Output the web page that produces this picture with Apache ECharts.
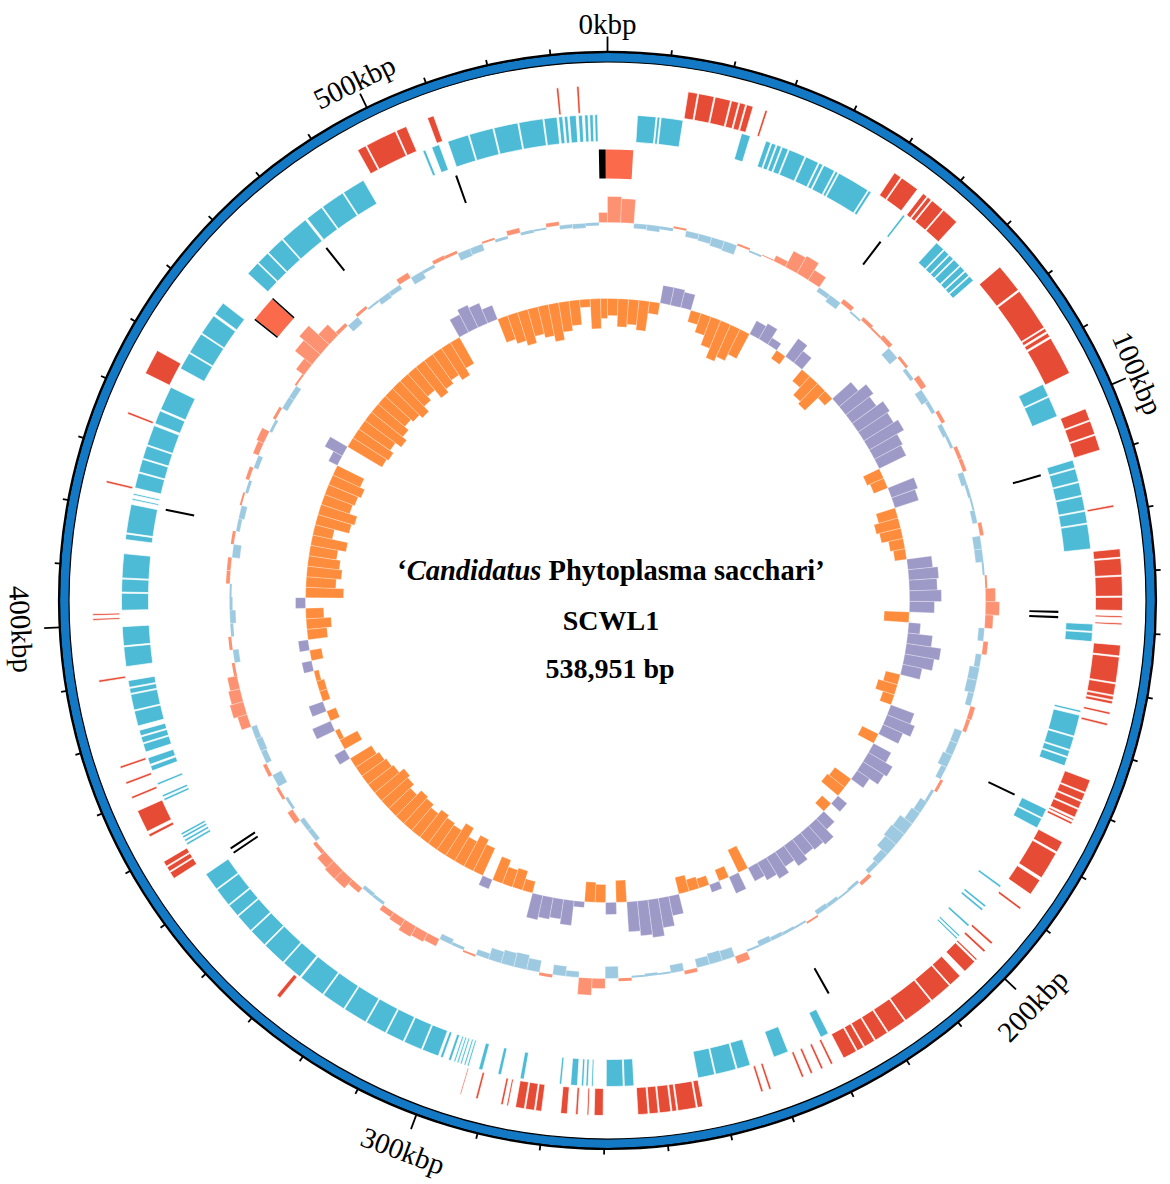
<!DOCTYPE html>
<html><head><meta charset="utf-8">
<script src="https://cdn.jsdelivr.net/npm/echarts@6/dist/echarts.min.js"></script>
<style>html,body{margin:0;padding:0;background:#fff}#c{width:1170px;height:1184px}</style>
</head><body><div id="c"></div>
<script>
// ---------------- DATA ----------------
const genomeLength = 538951;
const tickLabels = ['0kbp','100kbp','200kbp','300kbp','400kbp','500kbp'];
const tickLabelKbp = [0,100,200,300,400,500];
// CDS on the outer track (red), kbp [start, end]
const forwardCDS = [
 [13.5,15.1],[15.3,17.9],[18.1,20.7],[20.9,22.1],[22.3,23.3],[23.5,24.6],[26.7,27.1],
 [50.7,52.0],[52.2,55.4],[56.6,57.4],[57.6,58.3],[58.5,60.8],[61.0,63.9],
 [74.3,79.2],[79.5,86.8],[87.0,87.6],[87.9,88.6],[88.9,95.5],
 [102.0,104.0],[104.2,106.5],[106.7,109.3],[118.7,119.1],
 [126.1,127.5],[127.7,130.5],[130.7,134.0],[134.2,136.4],[137.3,137.6],[138.5,138.8],
 [142.2,144.0],[144.2,148.5],[148.7,150.6],[150.8,151.4],[151.6,152.1],[153.5,153.9],[155.4,155.8],
 [165.3,167.5],[167.7,169.0],[169.2,170.4],[170.6,172.0],[172.3,172.6],[172.9,173.3],
 [176.6,178.5],[178.8,183.5],[184.0,186.8],[189.5,189.9],[197.0,197.4],[198.8,199.2],
 [200.8,201.1],[201.4,203.7],
 [204.8,207.0],[207.2,211.0],[211.2,216.5],[216.7,220.0],[220.2,222.5],[222.7,224.6],[224.8,226.0],[226.2,228.6],
 [230.6,231.0],[232.4,232.8],[234.3,234.7],[235.9,236.3],[241.7,242.1],[243.1,243.5],
 [253.5,254.4],[254.6,257.7],[257.9,258.7],[258.9,260.8],[261.0,262.5],[262.7,264.4],
 [270.2,271.7],[272.6,272.9],[274.4,274.8],[276.2,277.3],
 [280.5,281.5],[281.7,283.2],[283.4,284.9],[286.1,286.4],[287.0,287.4],[291.3,291.7],[294.2,294.4],
 [328.6,329.3],[355.3,356.5],[356.7,357.5],[357.7,358.6],[363.3,363.8],[364.3,368.1],
 [370.3,370.7],[372.9,373.3],[375.7,376.1],[390.5,390.9],[400.9,401.2],[401.7,402.0],
 [424.0,424.4],[436.0,436.4],[443.4,447.7],
 [495.5,497.0],[497.2,502.5],[502.7,504.5],[508.3,509.4],[530.4,530.8],[533.8,534.2]
];
// CDS on the inner track (blue), kbp
const reverseCDS = [
 [5.3,8.6],[8.8,9.3],[9.5,13.4],[24.0,25.6],
 [28.5,29.4],[29.6,30.4],[30.6,31.4],[31.6,32.7],[32.9,35.9],[36.1,38.5],[38.7,39.4],[39.6,41.7],[41.9,42.4],[42.6,48.5],[48.7,49.2],
 [56.1,56.5],
 [63.8,65.5],[65.7,66.8],[67.0,67.9],[68.1,69.5],[69.7,70.8],[71.0,71.9],[72.1,73.1],
 [95.2,97.5],[97.7,101.4],
 [109.6,111.0],[111.2,113.5],[113.7,116.0],[116.2,118.7],[118.9,121.0],[121.2,125.6],
 [138.9,140.2],[140.4,142.0],[154.3,154.7],
 [155.2,159.0],[159.2,161.5],[161.7,162.8],[163.0,164.5],
 [172.8,174.5],[174.7,176.5],
 [188.5,188.9],[192.9,193.3],[193.7,194.1],[197.4,197.8],[199.9,200.2],[200.5,200.8],
 [229.0,230.5],[236.8,239.5],
 [243.9,246.3],[246.5,250.2],[250.4,253.4],[264.8,266.5],[266.7,269.7],
 [272.0,272.3],[272.9,273.3],[273.7,274.1],[274.8,276.0],[277.6,278.0],
 [284.3,285.0],[288.4,289.0],[291.8,292.5],
 [294.3,294.6],[294.9,295.2],[295.6,295.9],[296.2,296.5],[296.8,297.1],[297.6,298.1],[299.1,299.6],
 [300.0,303.0],[303.2,306.5],[306.7,310.0],[310.2,314.0],[314.2,318.5],[318.7,323.0],[323.2,328.0],
 [328.3,332.0],[332.2,336.5],[336.7,340.0],[340.2,343.5],[343.7,346.0],[346.2,349.5],[349.7,352.9],
 [359.0,359.4],[359.7,360.1],[360.4,360.8],[361.0,361.4],[367.8,368.2],[368.5,368.9],[370.8,371.2],
 [373.5,374.4],[374.7,375.9],[377.0,378.5],[378.7,379.8],[380.0,381.0],[381.8,384.5],
 [384.7,387.5],[387.7,388.6],[388.8,390.0],[392.5,396.0],[396.2,399.6],
 [402.5,405.5],[405.7,408.0],[408.2,412.5],[415.0,416.0],[416.2,421.3],[422.1,422.4],[423.0,423.3],
 [424.3,427.0],[427.2,429.5],[429.7,432.0],[432.2,435.8],[436.2,438.6],[438.9,443.2],
 [446.9,450.0],[450.2,454.0],[454.2,457.9],[458.3,460.7],
 [467.5,470.0],[470.2,472.5],[472.7,476.0],[476.2,481.4],[481.8,485.0],[485.2,489.5],[489.7,493.8],
 [505.5,506.0],[507.2,508.6],
 [510.2,514.0],[514.2,518.5],[518.7,523.0],[523.2,527.5],[527.7,530.0],[530.3,531.0],[531.3,531.9],
 [532.2,533.4],[533.8,534.5],[534.9,535.5],[535.8,536.4],[536.7,537.2]
];
// tRNA (black) and rRNA (salmon), kbp
const tRNA = [[55.6,56.0],[110.4,110.8],[136.7,137.1],[137.7,138.1],[172.7,173.1],[225.3,225.7],
 [353.1,353.5],[354.1,354.5],[421.4,421.8],[481.0,481.4],[509.4,509.8],[461.8,462.1],[467.0,467.3],[537.3,538.6]];
const rRNA = [[-0.35,4.9],[462.1,467.0]];
// GC content deviation and GC skew, one value per 3 kb window
const windowSize = 3000;
const gcContent = [
 26,24,-5,-6,-3,2,-6,-7,-9,-10,
 2,-2,1,6,18,20,12,-5,-8,5,
 -2,4,2,5,-10,3,-4,6,-8,-4,
 4,-5,-3,4,4,-6,-3,-2,-5,4,
 -8,-8,-2,2,10,14,8,-6,5,-6,
 -10,-10,-6,5,4,-8,-8,-10,-6,3,
 -3,-8,-10,-15,-16,-14,-8,-5,4,-3,
 -2,-4,-5,2,-2,-3,-4,-6,-2,8,
 -10,-11,-9,4,-8,-2,-3,-2,3,-12,
 10,17,-6,-10,3,-12,-15,-14,-12,-6,
 2,-3,-6,8,10,12,8,6,-3,-4,
 6,12,12,10,4,-5,-5,6,-3,3,
 -10,4,-6,-7,-6,10,14,12,10,3,
 -6,3,-3,-6,-3,-2,4,4,-8,3,
 -4,-6,2,-3,4,-5,6,8,-3,3,
 -6,-6,2,10,22,28,15,4,-8,3,
 -2,-6,-5,6,-8,-3,4,3,-8,-7,
 2,-3,5,-3,-2,4,-4,-5,-3,10
];
const gcSkew = [
 -17,-28,-25,-30,-12,18,18,16,-12,-20,
 -30,-40,-35,-28,15,18,8,-10,22,15,
 -15,-25,-28,-10,25,35,30,38,35,40,
 32,30,-18,-15,28,25,-20,-25,-22,-15,
 -12,25,30,28,32,25,-25,12,25,35,
 30,20,-15,-20,-12,25,30,22,-18,20,
 28,25,15,-20,-22,12,-12,15,25,22,
 20,25,18,25,20,15,-25,18,-12,8,
 -10,-12,-17,20,30,38,35,30,-22,12,
 -18,-20,6,25,20,22,25,-12,-20,-18,
 -25,10,-30,-35,-28,-38,-30,-32,-35,-30,
 -34,-36,-30,-35,-38,-32,-30,-28,-25,12,
 -20,-5,20,-10,15,-8,-8,-5,10,-12,
 10,-20,-25,-18,10,-38,-30,-35,-32,-28,
 -36,-20,-35,-38,-30,-32,-35,-30,10,20,
 -40,-42,-38,-45,-40,-35,-38,-42,-35,-30,
 -40,-36,-32,-38,-30,20,25,22,15,-25,
 -30,-35,-28,-32,-38,-30,-25,-8,-30,-20
];
// ---------------- STYLE / LAYOUT ----------------
const C = {ring:'#1479C4', fwd:'#E64B35', rev:'#4DBBD5', trna:'#000000', rrna:'#FB6A4A',
  gcPos:'#FC9272', gcNeg:'#9ECAE1', skPos:'#9E9AC8', skNeg:'#FD8D3C'};
const R = {ringIn:538.5, ringOut:548, fwd:[488,515], rev:[459,486], feat:[422,451], gcBase:378, skBase:302};

const chart = echarts.init(document.getElementById('c'), null, {renderer:'svg'});

function sectorShape(params, api, r0, r1, v0, v1){
  const cs = params.coordSys;
  const a = api.coord([r1, v0]), b = api.coord([r1, v1]), c = api.coord([r0, v0]);
  let a0 = Math.atan2(a[1]-cs.cy, a[0]-cs.cx);
  let a1 = Math.atan2(b[1]-cs.cy, b[0]-cs.cx);
  if (a1 < a0 - 1e-9) a1 += 2*Math.PI;
  return {cx:cs.cx, cy:cs.cy, r:Math.hypot(a[0]-cs.cx,a[1]-cs.cy), r0:Math.hypot(c[0]-cs.cx,c[1]-cs.cy),
    startAngle:a0, endAngle:a1, clockwise:true};
}
function featureSeries(name, data, rr, color, stroke){
  return {type:'custom', name, coordinateSystem:'polar', data, silent:true,
    renderItem(params, api){
      const v0 = api.value(0)*1000, v1 = api.value(1)*1000;
      return {type:'sector', shape:sectorShape(params, api, rr[0], rr[1], v0, v1),
        style:{fill:color, stroke:stroke||null, lineWidth:stroke?0.7:0}};
    }};
}
function histSeries(name, values, base, posColor, negColor){
  return {type:'custom', name, coordinateSystem:'polar', silent:true,
    data: values.map((v,i)=>[i, v]),
    renderItem(params, api){
      const i = api.value(0); let v = api.value(1);
      if (Math.abs(v) < 1) v = v < 0 ? -1 : 1;
      const s = i*windowSize, e = Math.min((i+1)*windowSize, genomeLength);
      const r0 = v >= 0 ? base : base + v, r1 = v >= 0 ? base + v : base;
      const big = Math.abs(v) > 3;
      return {type:'sector', shape:sectorShape(params, api, r0, r1, s, e),
        style:{fill: v >= 0 ? posColor : negColor, stroke: big ? 'rgba(255,255,255,0.55)' : null, lineWidth: big ? 0.5 : 0}};
    }};
}
const tickKbp = [];
for (let k = 0; k < genomeLength/1000; k += 10) tickKbp.push(k);

const option = {
  animation:false,
  backgroundColor:'#fff',
  polar:{center:[607.5,600.5], radius:600},
  angleAxis:{type:'value', min:0, max:genomeLength, startAngle:90, clockwise:true, show:false},
  radiusAxis:{type:'value', min:0, max:600, show:false},
  series:[
    {type:'custom', name:'ring', coordinateSystem:'polar', data:[[0,0]], silent:true,
      renderItem(params, api){
        const cs = params.coordSys;
        return {type:'group', children:[
          {type:'sector', shape:{cx:cs.cx, cy:cs.cy, r0:R.ringIn, r:R.ringOut, startAngle:0, endAngle:Math.PI*2},
            style:{fill:C.ring, stroke:'#000', lineWidth:1.2}},
          {type:'circle', shape:{cx:cs.cx, cy:cs.cy, r:R.ringOut+0.5}, style:{fill:null, stroke:'#000', lineWidth:2.2}}
        ]};
      }},
    {type:'custom', name:'ticks', coordinateSystem:'polar', silent:true,
      data: tickKbp.map(k=>[0,k]),
      renderItem(params, api){
        const k = api.value(1); const v = k*1000;
        const len = (k % 100 === 0) ? 16 : 6;
        const p0 = api.coord([R.ringOut, v]), p1 = api.coord([R.ringOut+len, v]);
        return {type:'line', shape:{x1:p0[0], y1:p0[1], x2:p1[0], y2:p1[1]}, style:{stroke:'#000', lineWidth:1.8}};
      }},
    {type:'custom', name:'labels', coordinateSystem:'polar', silent:true,
      data: tickLabelKbp.map((k,i)=>[0,k,i]),
      renderItem(params, api){
        const cs = params.coordSys;
        const v = api.value(1)*1000;
        const q = api.coord([500, v]);
        const deg = (Math.atan2(q[0]-cs.cx, cs.cy-q[1])*180/Math.PI + 360) % 360;
        const flip = deg > 90 && deg < 270;
        const p = api.coord([flip ? 587 : 577, v]);
        const rot = flip ? -(deg-180)*Math.PI/180 : -deg*Math.PI/180;
        return {type:'text', x:p[0], y:p[1], rotation:rot,
          style:{text:tickLabels[api.value(2)], font:'29px "Liberation Serif", "Times New Roman", serif',
            fill:'#000', align:'center', verticalAlign:'middle'}};
      }},
    featureSeries('forward CDS', forwardCDS, R.fwd, C.fwd, '#fff'),
    featureSeries('reverse CDS', reverseCDS, R.rev, C.rev, '#fff'),
    featureSeries('rRNA', rRNA, R.feat, C.rrna),
    featureSeries('tRNA', tRNA, R.feat, C.trna),
    histSeries('GC content', gcContent, R.gcBase, C.gcPos, C.gcNeg),
    histSeries('GC skew', gcSkew, R.skBase, C.skPos, C.skNeg)
  ]
};
const centerText = ['‘Candidatus Phytoplasma sacchari’', 'SCWL1', '538,951 bp'];
option.graphic = [
  {type:'text', x:611, y:570.5, style:{
     text:'{n|‘}{i|Candidatus}{n| Phytoplasma sacchari’}', align:'center', verticalAlign:'middle',
     rich:{n:{fontFamily:'"Liberation Serif", serif', fontWeight:'bold', fontSize:28.5, fill:'#000'},
           i:{fontFamily:'"Liberation Serif", serif', fontWeight:'bold', fontStyle:'italic', fontSize:28.5, fill:'#000'}}}},
  {type:'text', x:611, y:620.5, style:{text:centerText[1], align:'center', verticalAlign:'middle',
     font:'bold 28px "Liberation Serif", serif', fill:'#000'}},
  {type:'text', x:610, y:668.5, style:{text:centerText[2], align:'center', verticalAlign:'middle',
     font:'bold 28px "Liberation Serif", serif', fill:'#000'}}
];
chart.setOption(option);
</script>
</body></html>
